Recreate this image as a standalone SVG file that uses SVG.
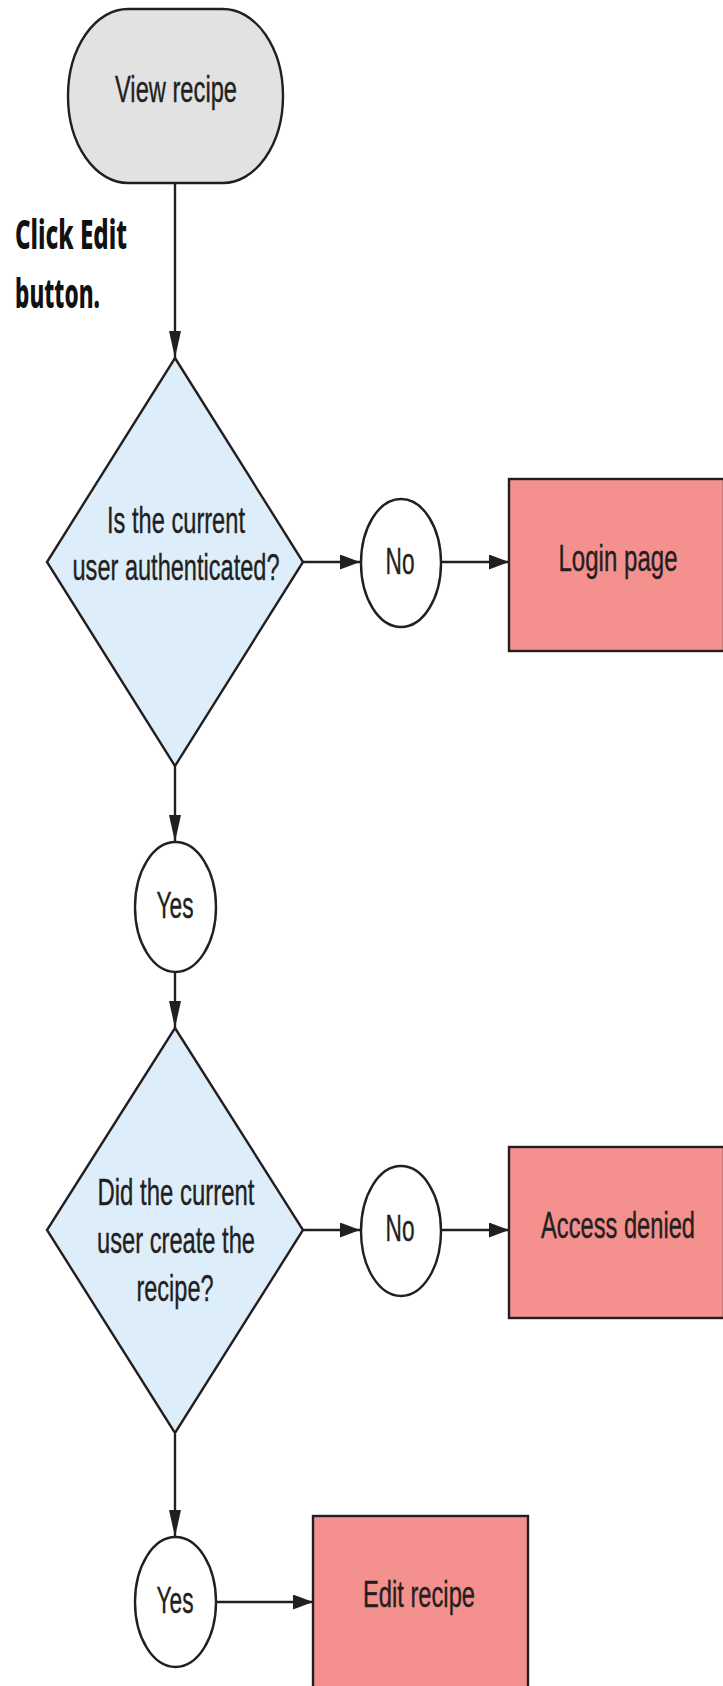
<svg xmlns="http://www.w3.org/2000/svg" width="723" height="1686" viewBox="0 0 723 1686">
<style>
  .shape { stroke: #231f20; stroke-width: 2.4; }
  .term { fill: #e1e2e1; }
  .dec { fill: #ddedfa; }
  .res { fill: #f4908d; }
  .lbl { fill: #ffffff; }
  .t { font-family: "Liberation Sans", Arial, sans-serif; font-size: 37px; fill: #231f20; text-anchor: middle; stroke: #231f20; stroke-width: 0.4; }
  .note { font-family: "Noto Sans", "Liberation Sans", sans-serif; font-size: 41px; font-weight: 800; fill: #111111; }
  .conn { stroke: #231f20; stroke-width: 2.4; fill: none; }
  .h { marker-end: url(#ah); }
  .v { marker-end: url(#av); }
</style>
<defs>
  <marker id="ah" markerUnits="userSpaceOnUse" viewBox="0 0 20 15" refX="20" refY="7.5" markerWidth="20" markerHeight="15" orient="auto">
    <path d="M0,0 L20,7.5 L0,15 z" fill="#231f20"/>
  </marker>
  <marker id="av" markerUnits="userSpaceOnUse" viewBox="0 0 27 12" refX="27" refY="6" markerWidth="27" markerHeight="12" orient="auto">
    <path d="M0,0 L27,6 L0,12 z" fill="#231f20"/>
  </marker>
</defs>

<g id="connectors">
  <line class="conn v" x1="175" y1="183" x2="175" y2="358"/>
  <line class="conn h" x1="303" y1="562" x2="360" y2="562"/>
  <line class="conn h" x1="441" y1="562" x2="509" y2="562"/>
  <line class="conn v" x1="175" y1="766" x2="175" y2="842"/>
  <line class="conn v" x1="175" y1="972" x2="175" y2="1028"/>
  <line class="conn h" x1="303" y1="1230" x2="360" y2="1230"/>
  <line class="conn h" x1="441" y1="1230" x2="509" y2="1230"/>
  <line class="conn v" x1="175" y1="1434" x2="175" y2="1537"/>
  <line class="conn h" x1="216" y1="1602" x2="313" y2="1602"/>
</g>

<g id="view-recipe">
  <rect class="shape term" x="68" y="9" width="215" height="174" rx="60" ry="87"/>
  <text class="t" x="176" y="102" textLength="122" lengthAdjust="spacingAndGlyphs">View recipe</text>
</g>

<g id="click-edit-note">
  <text class="note" x="15" y="249" textLength="112" lengthAdjust="spacingAndGlyphs">Click Edit</text>
  <text class="note" x="15" y="308" textLength="85" lengthAdjust="spacingAndGlyphs">button.</text>
</g>

<g id="decision-authenticated">
  <polygon class="shape dec" points="175,358 303,562 175,766 47,562"/>
  <text class="t" x="176" y="533" textLength="138" lengthAdjust="spacingAndGlyphs">Is the current</text>
  <text class="t" x="176" y="580" textLength="207" lengthAdjust="spacingAndGlyphs">user authenticated?</text>
</g>

<g id="no-1">
  <ellipse class="shape lbl" cx="401" cy="563" rx="40" ry="64"/>
  <text class="t" x="400" y="574" textLength="29" lengthAdjust="spacingAndGlyphs">No</text>
</g>

<g id="login-page">
  <rect class="shape res" x="509" y="479" width="215" height="172"/>
  <text class="t" x="618" y="571" textLength="119" lengthAdjust="spacingAndGlyphs">Login page</text>
</g>

<g id="yes-1">
  <ellipse class="shape lbl" cx="175.5" cy="907" rx="40.5" ry="65"/>
  <text class="t" x="175" y="918" textLength="37" lengthAdjust="spacingAndGlyphs">Yes</text>
</g>

<g id="decision-creator">
  <polygon class="shape dec" points="175,1028 303,1230 175,1433 47,1230"/>
  <text class="t" x="176" y="1205" textLength="157" lengthAdjust="spacingAndGlyphs">Did the current</text>
  <text class="t" x="176" y="1253" textLength="158" lengthAdjust="spacingAndGlyphs">user create the</text>
  <text class="t" x="175" y="1301" textLength="77" lengthAdjust="spacingAndGlyphs">recipe?</text>
</g>

<g id="no-2">
  <ellipse class="shape lbl" cx="401" cy="1231" rx="40" ry="65"/>
  <text class="t" x="400" y="1241" textLength="29" lengthAdjust="spacingAndGlyphs">No</text>
</g>

<g id="access-denied">
  <rect class="shape res" x="509" y="1147" width="215" height="171"/>
  <text class="t" x="618" y="1238" textLength="154" lengthAdjust="spacingAndGlyphs">Access denied</text>
</g>

<g id="yes-2">
  <ellipse class="shape lbl" cx="175.5" cy="1602" rx="40.5" ry="65"/>
  <text class="t" x="175" y="1613" textLength="37" lengthAdjust="spacingAndGlyphs">Yes</text>
</g>

<g id="edit-recipe">
  <rect class="shape res" x="313" y="1516" width="215" height="190"/>
  <text class="t" x="419" y="1607" textLength="112" lengthAdjust="spacingAndGlyphs">Edit recipe</text>
</g>
</svg>
